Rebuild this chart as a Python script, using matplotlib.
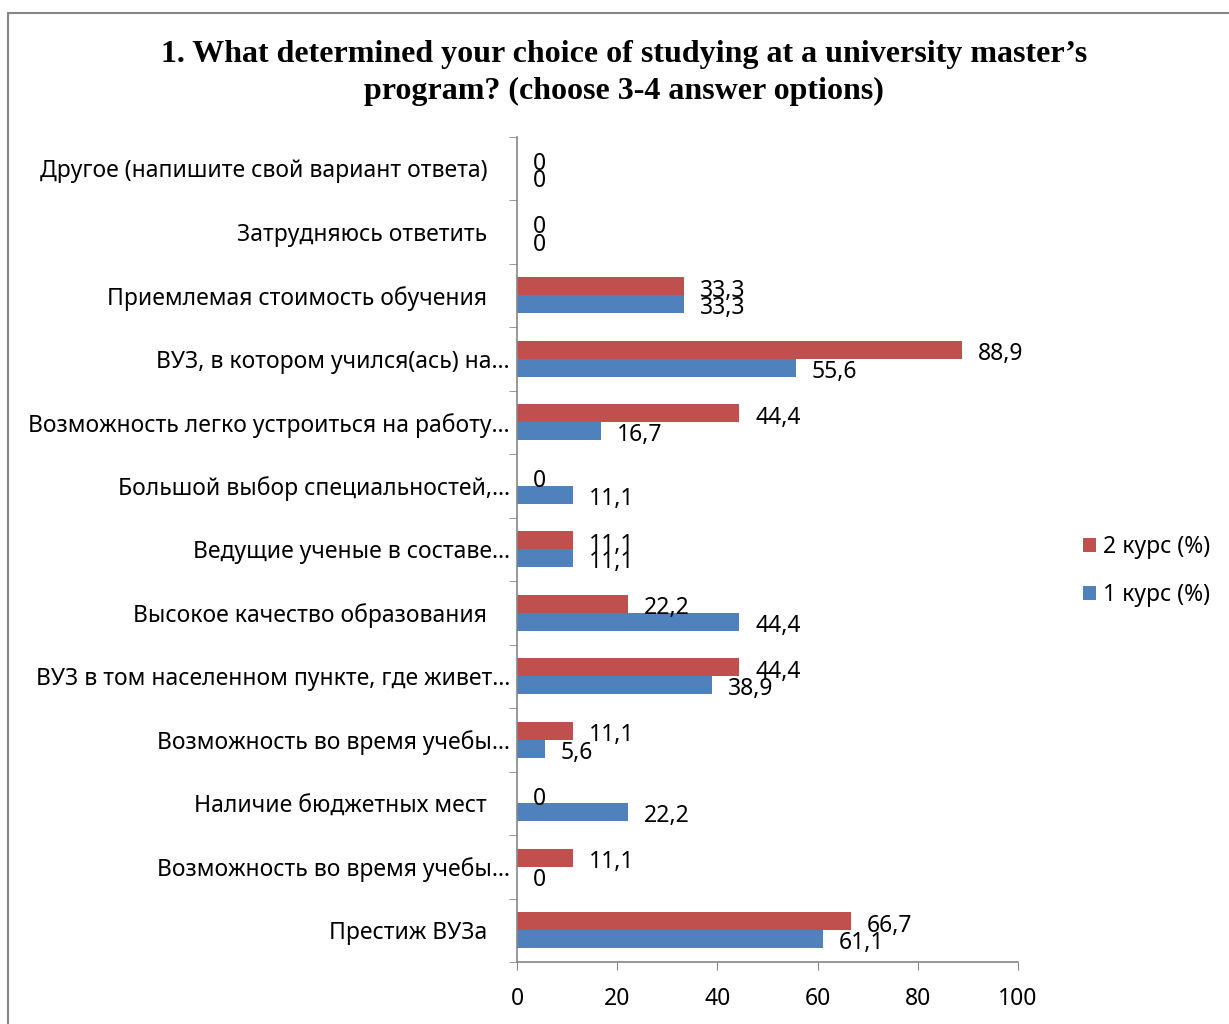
import matplotlib.pyplot as plt
import numpy as np
from matplotlib.patches import Rectangle

# categories, listed from top to bottom as in the chart
categories = [
    'Другое (напишите свой вариант ответа)',
    'Затрудняюсь ответить',
    'Приемлемая стоимость обучения',
    'ВУЗ, в котором учился(ась) на…',
    'Возможность легко устроиться на работу…',
    'Большой выбор специальностей,…',
    'Ведущие ученые в составе…',
    'Высокое качество образования',
    'ВУЗ в том населенном пункте, где живет…',
    'Возможность во время учебы…',
    'Наличие бюджетных мест',
    'Возможность во время учебы…',
    'Престиж ВУЗа',
]
kurs2 = [0, 0, 33.3, 88.9, 44.4, 0, 11.1, 22.2, 44.4, 11.1, 0, 11.1, 66.7]
kurs1 = [0, 0, 33.3, 55.6, 16.7, 11.1, 11.1, 44.4, 38.9, 5.6, 22.2, 0, 61.1]
series_names = ['2 курс (%)', '1 курс (%)']
x_ticks = [0, 20, 40, 60, 80, 100]

title = '1. What determined your choice of studying at a university master’s\nprogram? (choose 3-4 answer options)'

RED = '#C0504D'
BLUE = '#4F81BD'
GRAY = '#868686'
FS = 16.5

plt.rcParams['font.family'] = ['Noto Sans', 'DejaVu Sans']


def fmt(v):
    if v == 0:
        return '0'
    return ('%.1f' % v).replace('.', ',')


def tick_text(label):
    # labels that are not cut keep a trailing gap like in the original
    if label.endswith('…'):
        return label
    return label + '\u2003'


fig = plt.figure(figsize=(12.29, 10.24), dpi=100)
fig.patches.append(Rectangle((8 / 1229, -0.1), 1.2, 1 - 13 / 1024 + 0.1,
                             transform=fig.transFigure, fill=False,
                             edgecolor=GRAY, linewidth=1.5))

ax = fig.add_axes([517 / 1229, 1 - 962 / 1024, 501 / 1229, 825.5 / 1024])

n = len(categories)
y = np.arange(n)[::-1]
h = 0.28
b2 = ax.barh(y + h / 2, kurs2, height=h, color=RED, label=series_names[0])
b1 = ax.barh(y - h / 2, kurs1, height=h, color=BLUE, label=series_names[1])

for vals, yy in [(kurs2, y + h / 2), (kurs1, y - h / 2)]:
    for v, yv in zip(vals, yy):
        ax.annotate(fmt(v), (v, yv), xytext=(11.5, -3), textcoords='offset points',
                    ha='left', va='center', fontsize=FS)

ax.set_xlim(0, 100)
ax.set_ylim(-0.5, n - 0.5)
ax.set_xticks(x_ticks)
ax.set_xticklabels([str(t) for t in x_ticks], fontsize=FS)
ax.set_yticks(y)
ax.set_yticklabels([tick_text(c) for c in categories], fontsize=FS)
ax.set_yticks(np.arange(-0.5, n, 1), minor=True)
ax.tick_params(axis='y', which='major', length=0, pad=5)
ax.tick_params(axis='y', which='minor', length=6, color=GRAY, direction='out')
ax.tick_params(axis='x', length=6, color=GRAY, direction='out', pad=12)

for s in ['top', 'right']:
    ax.spines[s].set_visible(False)
for s in ['left', 'bottom']:
    ax.spines[s].set_color(GRAY)
    ax.spines[s].set_linewidth(1.2)

fig.text(624 / 1229, 1 - 73 / 1024, title, ha='center', va='center',
         fontsize=23, fontweight='bold', family='Liberation Serif',
         linespacing=1.35)

fig.legend(handles=[b2, b1], labels=series_names, loc='center left',
           bbox_to_anchor=(1062 / 1229, 1 - 571 / 1024), frameon=False,
           fontsize=FS, handlelength=0.6, handleheight=0.6,
           handletextpad=0.3, labelspacing=1.05)

fig.savefig('out.png', dpi=100)
